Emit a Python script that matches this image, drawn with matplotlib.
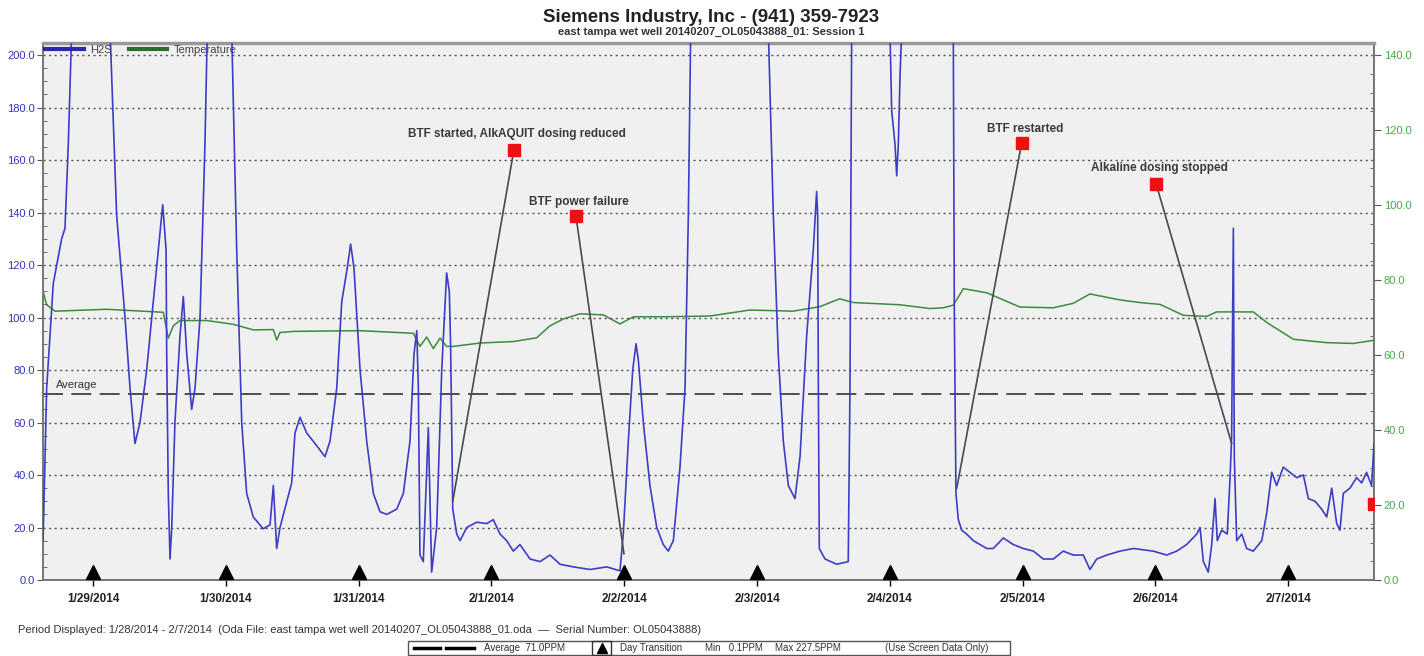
import matplotlib
matplotlib.use('Agg')
import matplotlib.pyplot as plt
from matplotlib.lines import Line2D
from matplotlib.patches import Rectangle
import matplotlib.transforms as mtransforms

plt.rcParams['font.family'] = ['Liberation Sans', 'DejaVu Sans']

# time axis: days since 1/28/2014 00:00
h2s_day = [0.624, 0.651, 0.701, 0.764, 0.789, 0.814, 0.840, 0.977, 1.128, 1.178,
           1.241, 1.279, 1.316, 1.354, 1.404, 1.467, 1.525, 1.550, 1.555, 1.567,
           1.580, 1.593, 1.617, 1.655, 1.680, 1.706, 1.743, 1.768, 1.806, 1.843,
           1.861, 1.956, 2.044, 2.082, 2.120, 2.157, 2.207, 2.282, 2.333, 2.358,
           2.383, 2.408, 2.496, 2.521, 2.559, 2.609, 2.672, 2.747, 2.785, 2.835,
           2.873, 2.915, 2.940, 2.965, 3.011, 3.061, 3.111, 3.161, 3.212, 3.287,
           3.337, 3.387, 3.417, 3.438, 3.450, 3.462, 3.487, 3.525, 3.550, 3.588,
           3.626, 3.663, 3.683, 3.693, 3.709, 3.739, 3.764, 3.814, 3.889, 3.965,
           4.014, 4.065, 4.115, 4.165, 4.215, 4.291, 4.366, 4.441, 4.517, 4.617,
           4.743, 4.868, 4.968, 4.993, 5.031, 5.064, 5.089, 5.106, 5.144, 5.194,
           5.245, 5.294, 5.332, 5.370, 5.420, 5.458, 5.483, 5.501, 5.797, 6.085,
           6.123, 6.160, 6.198, 6.236, 6.286, 6.324, 6.374, 6.424, 6.449, 6.457,
           6.462, 6.469, 6.512, 6.600, 6.687, 6.700, 6.713, 6.851, 7.001, 7.014,
           7.039, 7.052, 7.064, 7.077, 7.090, 7.265, 7.478, 7.486, 7.498, 7.516,
           7.541, 7.579, 7.629, 7.730, 7.779, 7.855, 7.930, 8.005, 8.081, 8.156,
           8.231, 8.306, 8.382, 8.457, 8.507, 8.558, 8.633, 8.733, 8.834, 8.984,
           9.085, 9.160, 9.235, 9.311, 9.336, 9.361, 9.398, 9.424, 9.449, 9.466,
           9.499, 9.541, 9.562, 9.574, 9.587, 9.594, 9.612, 9.650, 9.687, 9.737,
           9.801, 9.838, 9.876, 9.913, 9.963, 10.014, 10.064, 10.114, 10.152, 10.202,
           10.252, 10.290, 10.328, 10.365, 10.390, 10.415, 10.465, 10.515, 10.553, 10.590,
           10.628, 10.646]
h2s_ppm = [15, 73, 113, 130, 134, 166, 210, 227, 210, 139,
           100, 73, 52, 60, 80, 113, 143, 126, 86, 33,
           8, 20, 60, 93, 108, 86, 65, 73, 100, 166,
           210, 225, 210, 126, 60, 33, 24, 19.5, 21, 36,
           12, 20, 37, 56, 62, 56, 52, 47, 53, 73,
           106, 119, 128, 119, 80, 53, 33, 26, 25, 27,
           33, 53, 86, 95, 73, 9.5, 7, 58, 3, 20,
           80, 117, 110, 89, 27, 17.5, 15, 20, 22, 21.5,
           23, 17.5, 15, 11, 13.5, 8, 7, 9.5, 6, 5,
           4, 5, 3.5, 17.5, 53, 80, 90, 84, 60, 36,
           20, 13.5, 11, 15, 43, 73, 139, 210, 227, 210,
           139, 86, 53, 36, 31, 47, 93, 126, 148, 139,
           73, 12, 8, 6, 7, 73, 210, 227, 210, 179,
           166, 154, 166, 192, 210, 227, 210, 100, 33, 23,
           19, 17.5, 15, 12, 12, 16, 13.5, 12, 11, 8,
           8, 11, 9.5, 9.5, 4, 8, 9.5, 11, 12, 11,
           9.5, 11, 13.5, 17.5, 20, 7, 3, 13.5, 31, 15,
           19, 17.5, 39, 54.5, 134, 47, 15, 17.5, 12, 11,
           15, 25.5, 41, 36, 43, 41, 39, 40, 31, 30,
           27, 24, 35, 21.5, 19, 33, 35, 39, 37, 41,
           36, 52]

temp_day = [0.624, 0.651, 0.714, 1.103, 1.529, 1.567, 1.605, 1.655, 1.856, 2.056,
            2.207, 2.358, 2.383, 2.408, 2.508, 3.011, 3.412, 3.462, 3.513, 3.563,
            3.613, 3.663, 3.713, 3.914, 4.165, 4.341, 4.441, 4.541, 4.667, 4.843,
            4.968, 5.069, 5.294, 5.645, 5.946, 6.273, 6.473, 6.623, 6.725, 7.077,
            7.303, 7.403, 7.478, 7.554, 7.730, 7.980, 8.231, 8.382, 8.507, 8.733,
            8.884, 9.035, 9.210, 9.386, 9.461, 9.737, 9.838, 10.039, 10.290, 10.491,
            10.641]
temp_f = [77, 73.4, 71.7, 72.2, 71.4, 64.5, 67.8, 69.2, 69.2, 68.2,
          66.7, 66.8, 64, 66, 66.3, 66.5, 65.8, 62.3, 64.8, 61.7,
          64.5, 62.3, 62.3, 63.2, 63.6, 64.6, 67.8, 69.6, 71, 70.7,
          68.3, 70.2, 70.2, 70.4, 72, 71.7, 72.9, 75, 74, 73.4,
          72.4, 72.6, 73.3, 77.7, 76.6, 72.8, 72.6, 73.8, 76.3, 74.7,
          74, 73.5, 70.6, 70.3, 71.5, 71.5, 68.7, 64.2, 63.3, 63.1,
          63.9]

average_ppm = 71.0
day_ticks = [1, 2, 3, 4, 5, 6, 7, 8, 9, 10]
day_labels = ['1/29/2014', '1/30/2014', '1/31/2014', '2/1/2014', '2/2/2014',
              '2/3/2014', '2/4/2014', '2/5/2014', '2/6/2014', '2/7/2014']

# annotations: text, text position, square position, line end (H2S units)
note_texts = ['BTF started, AlkAQUIT dosing reduced', 'BTF power failure',
              'BTF restarted', 'Alkaline dosing stopped']
note_text_day = [4.193, 4.660, 8.018, 9.027]
note_text_ppm = [170, 144, 172, 157]
note_sq_day = [4.170, 4.637, 7.993, 9.005]
note_sq_ppm = [164, 138.5, 166.5, 151]
note_end_day = [3.709, 4.998, 7.504, 9.574]
note_end_ppm = [30, 10, 35, 52]
extra_sq_day = [10.646]
extra_sq_ppm = [29]

W, H = 1424, 656
fig = plt.figure(figsize=(W / 100, H / 100), dpi=100)
ax = fig.add_axes([43 / W, 1 - 580 / H, (1374 - 43) / W, (580 - 43) / H])
ax.set_facecolor('#f0f0f0')

ymax = 204.6
ax.set_xlim(0.6235, 10.646)
ax.set_ylim(0, ymax)

# grid
for v in range(20, 201, 20):
    ax.axhline(v, color='#555555', lw=1.0, ls=(0, (1.5, 2.5)), zorder=1)

# average line
ax.axhline(average_ppm, color='#333333', lw=1.2, ls=(0, (12, 5)), zorder=2)
ax.text(0.72, average_ppm + 1.5, 'Average', fontsize=8, color='#333333',
        va='bottom', ha='left')

ax2 = ax.twinx()
ax2.set_ylim(0, ymax * 0.7)
ax2.plot(temp_day, temp_f, color='#3c8c3c', lw=1.1, zorder=3)
ax.set_zorder(ax2.get_zorder() + 1)
ax.patch.set_visible(False)
ax2.patch.set_visible(True)
ax2.patch.set_facecolor('#f0f0f0')

ax.plot(h2s_day, h2s_ppm, color='#3d3dc6', lw=1.2, zorder=4)

# annotations
for i in range(len(note_texts)):
    ax.plot([note_sq_day[i], note_end_day[i]], [note_sq_ppm[i], note_end_ppm[i]],
            color='#4a4a4a', lw=1.2, zorder=5)
    ax.plot(note_sq_day[i], note_sq_ppm[i], 's', color='#ee1111', ms=8.5, zorder=6)
    ax.text(note_text_day[i], note_text_ppm[i], note_texts[i], fontsize=8.5,
            fontweight='bold', color='#3a3a3a', ha='center', va='center', zorder=6)
ax.plot(extra_sq_day, extra_sq_ppm, 's', color='#ee1111', ms=8.5, zorder=6)

# day transition markers
trans = mtransforms.blended_transform_factory(ax.transData, ax.transAxes)
ax.plot(day_ticks, [0.014] * len(day_ticks), '^', color='black', ms=10,
        transform=trans, clip_on=False, zorder=7)

# axes styling
ax.set_xticks(day_ticks)
ax.set_xticklabels(day_labels, fontsize=8.5, fontweight='bold', color='#222222')
ax.tick_params(axis='x', direction='inout', length=8, width=1, pad=5)

ax.set_yticks(range(0, 201, 20))
ax.set_yticklabels([f'{v:.1f}' for v in range(0, 201, 20)])
ax.set_yticks(range(0, 201, 5), minor=True)
ax.tick_params(axis='y', which='major', direction='out', length=4, labelsize=8,
               labelcolor='#3333bb', color='#555555', pad=2)
ax.tick_params(axis='y', which='minor', direction='in', length=3, color='#555555')

ax2.set_yticks(range(0, 141, 20))
ax2.set_yticklabels([f'{v:.1f}' for v in range(0, 141, 20)])
ax2.set_yticks(range(0, 141, 5), minor=True)
ax2.tick_params(axis='y', which='major', direction='out', length=5, labelsize=8,
                labelcolor='#44aa44', color='#555555', pad=2)
ax2.tick_params(axis='y', which='minor', direction='in', length=3, color='#555555')

for a in (ax, ax2):
    for s in a.spines.values():
        s.set_color('#777777')
        s.set_linewidth(1.3)
ax.spines['top'].set_linewidth(2.5)
ax.spines['top'].set_color('#999999')

# top legend
handles = [Line2D([], [], color='#2a2aa8', lw=3), Line2D([], [], color='#2a6e2a', lw=3)]
leg = ax.legend(handles, ['H2S', 'Temperature'], loc='upper left', ncol=2,
                frameon=False, fontsize=8, handlelength=3.5, handletextpad=0.6,
                columnspacing=1.5, borderaxespad=0.05, borderpad=0.1)
for t in leg.get_texts():
    t.set_color('#444444')

# titles
fig.text(711 / W, 1 - 17 / H, 'Siemens Industry, Inc - (941) 359-7923',
         fontsize=13.5, fontweight='bold', ha='center', va='center', color='#222222')
fig.text(711 / W, 1 - 32 / H, 'east tampa wet well 20140207_OL05043888_01: Session 1',
         fontsize=8, fontweight='bold', ha='center', va='center', color='#333333')

# footer
fig.text(18 / W, 1 - 630 / H,
         'Period Displayed: 1/28/2014 - 2/7/2014  (Oda File: east tampa wet well '
         '20140207_OL05043888_01.oda  \u2014  Serial Number: OL05043888)',
         fontsize=8, ha='left', va='center', color='#333333')

fig.add_artist(Rectangle((408 / W, 1 - 655 / H), (1010 - 408) / W, 14 / H,
                         transform=fig.transFigure, fill=False,
                         edgecolor='#555555', lw=1))
yb = 1 - 648 / H
fig.add_artist(Line2D([414 / W, 440 / W], [yb, yb], color='black', lw=2.5,
                      transform=fig.transFigure))
fig.add_artist(Line2D([446 / W, 474 / W], [yb, yb], color='black', lw=2.5,
                      transform=fig.transFigure))
fig.text(484 / W, yb, 'Average  71.0PPM', fontsize=7, va='center', color='#333333')
fig.add_artist(Rectangle((592 / W, 1 - 655 / H), 19 / W, 14 / H,
                         transform=fig.transFigure, fill=False,
                         edgecolor='#333333', lw=1))
fig.add_artist(Line2D([601.5 / W], [yb], marker='^', color='black', ms=7,
                      transform=fig.transFigure))
fig.text(620 / W, yb, 'Day Transition', fontsize=7, va='center', color='#333333')
fig.text(705 / W, yb, 'Min   0.1PPM', fontsize=7, va='center', color='#333333')
fig.text(775 / W, yb, 'Max 227.5PPM', fontsize=7, va='center', color='#333333')
fig.text(885 / W, yb, '(Use Screen Data Only)', fontsize=7, va='center', color='#333333')

fig.savefig('out.png', dpi=100)
